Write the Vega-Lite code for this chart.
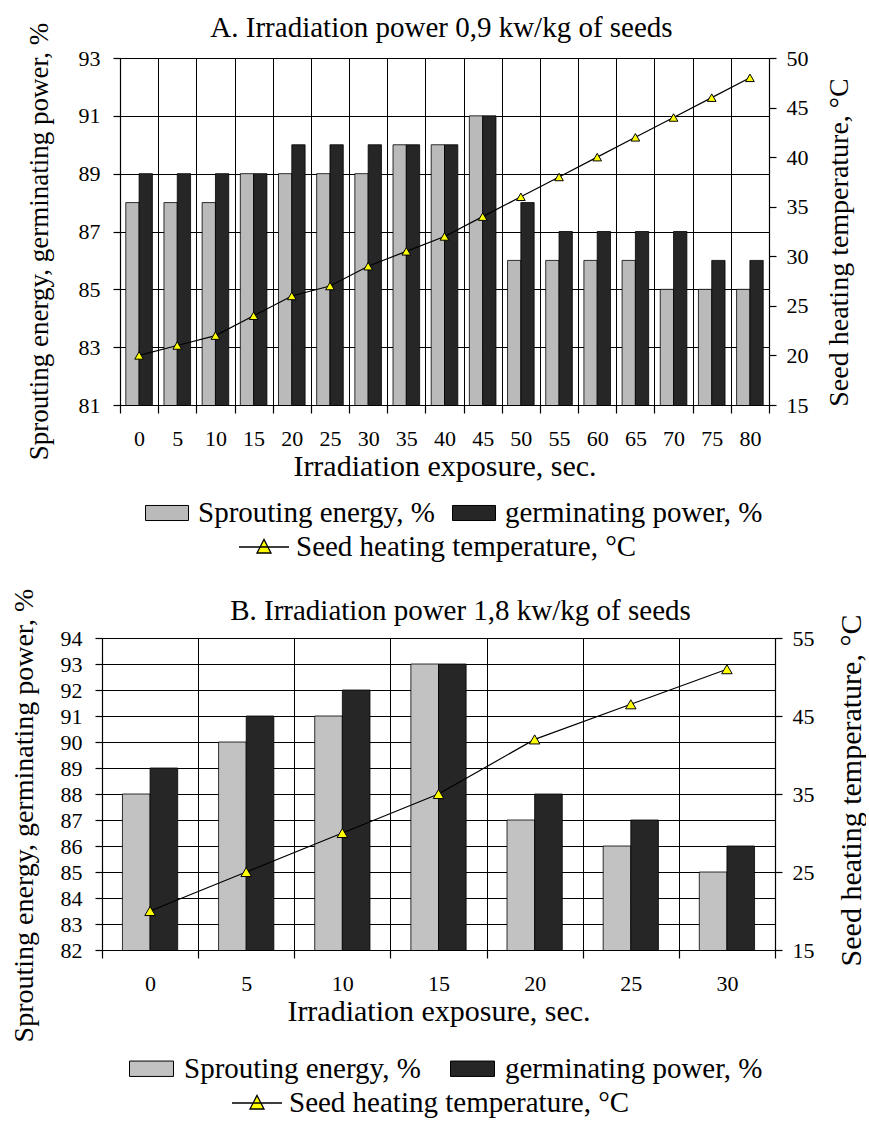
{
  "$schema": "https://vega.github.io/schema/vega-lite/v6.json",
  "padding": {"left": 9, "right": 0, "top": 14, "bottom": 0},
  "background": "white",
  "config": {
    "font": "Liberation Serif",
    "view": {"stroke": null},
    "axis": {
      "labelColor": "black", "titleColor": "black", "domainColor": "black",
      "tickColor": "black", "gridColor": "black", "gridOpacity": 1, "gridWidth": 1,
      "labelFontSize": 22, "titleFontSize": 27, "titleFontWeight": "normal",
      "tickSize": 7, "domainWidth": 1.2, "tickWidth": 1.2
    },
    "legend": {"labelFontSize": 29, "labelColor": "black", "padding": 0, "labelLimit": 600},
    "title": {"fontSize": 29, "fontWeight": "normal", "color": "black"}
  },
  "datasets": {
    "barsA": [
      {"exp": 0, "series": "Sprouting energy, %", "value": 88},
      {"exp": 5, "series": "Sprouting energy, %", "value": 88},
      {"exp": 10, "series": "Sprouting energy, %", "value": 88},
      {"exp": 15, "series": "Sprouting energy, %", "value": 89},
      {"exp": 20, "series": "Sprouting energy, %", "value": 89},
      {"exp": 25, "series": "Sprouting energy, %", "value": 89},
      {"exp": 30, "series": "Sprouting energy, %", "value": 89},
      {"exp": 35, "series": "Sprouting energy, %", "value": 90},
      {"exp": 40, "series": "Sprouting energy, %", "value": 90},
      {"exp": 45, "series": "Sprouting energy, %", "value": 91},
      {"exp": 50, "series": "Sprouting energy, %", "value": 86},
      {"exp": 55, "series": "Sprouting energy, %", "value": 86},
      {"exp": 60, "series": "Sprouting energy, %", "value": 86},
      {"exp": 65, "series": "Sprouting energy, %", "value": 86},
      {"exp": 70, "series": "Sprouting energy, %", "value": 85},
      {"exp": 75, "series": "Sprouting energy, %", "value": 85},
      {"exp": 80, "series": "Sprouting energy, %", "value": 85},
      {"exp": 0, "series": "germinating power, %", "value": 89},
      {"exp": 5, "series": "germinating power, %", "value": 89},
      {"exp": 10, "series": "germinating power, %", "value": 89},
      {"exp": 15, "series": "germinating power, %", "value": 89},
      {"exp": 20, "series": "germinating power, %", "value": 90},
      {"exp": 25, "series": "germinating power, %", "value": 90},
      {"exp": 30, "series": "germinating power, %", "value": 90},
      {"exp": 35, "series": "germinating power, %", "value": 90},
      {"exp": 40, "series": "germinating power, %", "value": 90},
      {"exp": 45, "series": "germinating power, %", "value": 91},
      {"exp": 50, "series": "germinating power, %", "value": 88},
      {"exp": 55, "series": "germinating power, %", "value": 87},
      {"exp": 60, "series": "germinating power, %", "value": 87},
      {"exp": 65, "series": "germinating power, %", "value": 87},
      {"exp": 70, "series": "germinating power, %", "value": 87},
      {"exp": 75, "series": "germinating power, %", "value": 86},
      {"exp": 80, "series": "germinating power, %", "value": 86}
    ],
    "tempA": [
      {"exp": 0, "temp": 20}, {"exp": 5, "temp": 21}, {"exp": 10, "temp": 22},
      {"exp": 15, "temp": 24}, {"exp": 20, "temp": 26}, {"exp": 25, "temp": 27},
      {"exp": 30, "temp": 29}, {"exp": 35, "temp": 30.5}, {"exp": 40, "temp": 32},
      {"exp": 45, "temp": 34}, {"exp": 50, "temp": 36}, {"exp": 55, "temp": 38},
      {"exp": 60, "temp": 40}, {"exp": 65, "temp": 42}, {"exp": 70, "temp": 44},
      {"exp": 75, "temp": 46}, {"exp": 80, "temp": 48}
    ],
    "barsB": [
      {"exp": 0, "series": "Sprouting energy, %", "value": 88},
      {"exp": 5, "series": "Sprouting energy, %", "value": 90},
      {"exp": 10, "series": "Sprouting energy, %", "value": 91},
      {"exp": 15, "series": "Sprouting energy, %", "value": 93},
      {"exp": 20, "series": "Sprouting energy, %", "value": 87},
      {"exp": 25, "series": "Sprouting energy, %", "value": 86},
      {"exp": 30, "series": "Sprouting energy, %", "value": 85},
      {"exp": 0, "series": "germinating power, %", "value": 89},
      {"exp": 5, "series": "germinating power, %", "value": 91},
      {"exp": 10, "series": "germinating power, %", "value": 92},
      {"exp": 15, "series": "germinating power, %", "value": 93},
      {"exp": 20, "series": "germinating power, %", "value": 88},
      {"exp": 25, "series": "germinating power, %", "value": 87},
      {"exp": 30, "series": "germinating power, %", "value": 86}
    ],
    "tempB": [
      {"exp": 0, "temp": 20}, {"exp": 5, "temp": 25}, {"exp": 10, "temp": 30},
      {"exp": 15, "temp": 35}, {"exp": 20, "temp": 42}, {"exp": 25, "temp": 46.5},
      {"exp": 30, "temp": 51}
    ]
  },
  "columns": 1,
  "align": "none",
  "spacing": 26,
  "resolve": {
    "scale": {"x": "independent", "y": "independent", "xOffset": "independent", "fill": "independent", "stroke": "independent"},
    "legend": {"fill": "independent", "stroke": "independent"}
  },
  "concat": [
    {
      "title": {"text": "A. Irradiation power 0,9 kw/kg of seeds", "offset": -21, "dx": 6},
      "width": 667,
      "height": 347,
      "data": {"name": "barsA"},
      "resolve": {"scale": {"y": "independent"}},
      "layer": [
        {
          "mark": {"type": "bar", "stroke": "black", "strokeWidth": 0.8, "clip": true},
          "encoding": {
            "x": {"field": "exp", "type": "ordinal", "scale": {"paddingInner": 0, "paddingOuter": 0, "range": [18, 667]},
              "axis": {"tickBand": "extent", "grid": true, "labelAngle": 0, "labelPadding": 15, "titlePadding": 2, "titleFontSize": 30, "title": "Irradiation exposure, sec.", "tickSize": 8}},
            "xOffset": {"field": "series", "type": "nominal", "scale": {"domain": ["Sprouting energy, %", "germinating power, %"], "paddingOuter": 0.435, "paddingInner": 0}},
            "y": {"field": "value", "type": "quantitative", "scale": {"domain": [81, 93], "zero": false, "nice": false},
              "axis": {"orient": "left", "offset": -18, "values": [81, 83, 85, 87, 89, 91, 93], "grid": true, "labelPadding": 13, "titleFontSize": 27, "titleBaseline": "middle", "titleX": -81, "titleY": 183, "title": "Sprouting energy, germinating power, %"}},
            "fill": {"field": "series", "type": "nominal",
              "scale": {"domain": ["Sprouting energy, %", "germinating power, %"], "range": ["#bababa", "#262626"]},
              "legend": {"title": null, "orient": "none", "legendX": 43, "legendY": 433, "direction": "horizontal", "columns": 2, "columnPadding": 15, "labelOffset": 9,
                "symbolType": "M-1,-0.35H1V0.35H-1Z", "symbolSize": 1849, "symbolStrokeColor": "black", "symbolStrokeWidth": 1}}
          }
        },
        {
          "data": {"name": "tempA"},
          "layer": [
            {
              "mark": {"type": "line", "strokeWidth": 1.2},
              "encoding": {
                "x": {"field": "exp", "type": "ordinal"},
                "y": {"field": "temp", "type": "quantitative", "scale": {"domain": [15, 50], "zero": false, "nice": false},
                  "axis": {"orient": "right", "values": [15, 20, 25, 30, 35, 40, 45, 50], "grid": false, "labelPadding": 10, "title": "Seed heating temperature, °C", "titleFontSize": 28, "titleAngle": 270, "titleBaseline": "middle", "titleX": 70, "titleY": 184}},
                "stroke": {"datum": "Seed heating temperature, °C", "type": "nominal", "scale": {"range": ["black"]},
                  "legend": {"title": null, "orient": "none", "legendX": 136, "legendY": 463, "labelOffset": 6,
                    "symbolType": "M-1,0H1M-0.28,0.24L0,-0.3L0.28,0.24Z", "symbolSize": 2500, "symbolFillColor": "#ffff00", "symbolStrokeColor": "black", "symbolStrokeWidth": 1.3,
                    "encode": {"symbols": {"update": {"fill": {"value": "#ffff00"}, "stroke": {"value": "black"}}}}}}
              }
            },
            {
              "mark": {"type": "point", "shape": "triangle-up", "filled": true, "fill": "#ffff00", "stroke": "black", "strokeWidth": 1, "size": 75, "opacity": 1},
              "encoding": {
                "x": {"field": "exp", "type": "ordinal"},
                "y": {"field": "temp", "type": "quantitative"}
              }
            }
          ]
        }
      ]
    },
    {
      "title": {"text": "B. Irradiation power 1,8 kw/kg of seeds", "offset": -38, "dx": 22},
      "width": 673,
      "height": 312,
      "data": {"name": "barsB"},
      "resolve": {"scale": {"y": "independent"}},
      "layer": [
        {
          "mark": {"type": "bar", "stroke": "black", "strokeWidth": 0.8, "clip": true},
          "encoding": {
            "x": {"field": "exp", "type": "ordinal", "scale": {"paddingInner": 0, "paddingOuter": 0},
              "axis": {"tickBand": "extent", "grid": true, "labelAngle": 0, "labelPadding": 15, "titlePadding": 2, "titleFontSize": 30, "title": "Irradiation exposure, sec.", "tickSize": 8}},
            "xOffset": {"field": "series", "type": "nominal", "scale": {"domain": ["Sprouting energy, %", "germinating power, %"], "paddingOuter": 0.74, "paddingInner": 0}},
            "y": {"field": "value", "type": "quantitative", "scale": {"domain": [82, 94], "zero": false, "nice": false},
              "axis": {"orient": "left", "values": [82, 83, 84, 85, 86, 87, 88, 89, 90, 91, 92, 93, 94], "grid": true, "labelPadding": 13, "titleFontSize": 28, "titleBaseline": "middle", "titleX": -78, "titleY": 177, "title": "Sprouting energy, germinating power, %"}},
            "fill": {"field": "series", "type": "nominal",
              "scale": {"domain": ["Sprouting energy, %", "germinating power, %"], "range": ["#c2c2c2", "#262626"]},
              "legend": {"title": null, "orient": "none", "legendX": 27, "legendY": 408, "direction": "horizontal", "columns": 2, "columnPadding": 27, "labelOffset": 10,
                "symbolType": "M-1,-0.35H1V0.35H-1Z", "symbolSize": 1936, "symbolStrokeColor": "black", "symbolStrokeWidth": 1}}
          }
        },
        {
          "data": {"name": "tempB"},
          "layer": [
            {
              "mark": {"type": "line", "strokeWidth": 1.2},
              "encoding": {
                "x": {"field": "exp", "type": "ordinal"},
                "y": {"field": "temp", "type": "quantitative", "scale": {"domain": [15, 55], "zero": false, "nice": false},
                  "axis": {"orient": "right", "values": [15, 20, 25, 30, 35, 40, 45, 50, 55], "grid": false, "labelPadding": 10, "title": "Seed heating temperature, °C", "titleFontSize": 30, "titleAngle": 270, "titleBaseline": "middle", "titleX": 76, "titleY": 152}},
                "stroke": {"datum": "Seed heating temperature, °C", "type": "nominal", "scale": {"range": ["black"]},
                  "legend": {"title": null, "orient": "none", "legendX": 129, "legendY": 439, "labelOffset": 6,
                    "symbolType": "M-1,0H1M-0.28,0.24L0,-0.3L0.28,0.24Z", "symbolSize": 2500, "symbolFillColor": "#ffff00", "symbolStrokeColor": "black", "symbolStrokeWidth": 1.3,
                    "encode": {"symbols": {"update": {"fill": {"value": "#ffff00"}, "stroke": {"value": "black"}}}}}}
              }
            },
            {
              "mark": {"type": "point", "shape": "triangle-up", "filled": true, "fill": "#ffff00", "stroke": "black", "strokeWidth": 1, "size": 110, "opacity": 1},
              "encoding": {
                "x": {"field": "exp", "type": "ordinal"},
                "y": {"field": "temp", "type": "quantitative"}
              }
            }
          ]
        }
      ]
    }
  ]
}
